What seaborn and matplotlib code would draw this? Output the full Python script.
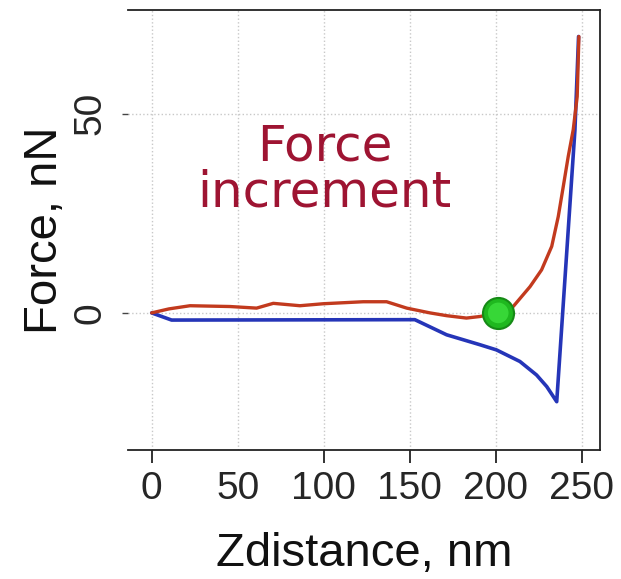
import matplotlib
matplotlib.use("Agg")
import matplotlib.pyplot as plt
import seaborn as sns
import pandas as pd

# retract curve (blue)
blue_x = [0, 11.6, 153, 171.5, 190.9, 200.5, 214.1, 223.8, 229.7, 235.5, 246.1, 248.2]
blue_y = [0, -1.8, -1.7, -5.5, -8.0, -9.3, -12.2, -15.6, -18.5, -22.3, 46, 69.4]

# approach curve (red)
red_x = [0, 10, 22.3, 45.5, 61, 70.7, 86.2, 99.8, 123, 136.6, 148.3, 161.8, 171.5,
         183, 191, 201.5, 210.2, 220, 226.7, 232.6, 236.4, 239.3, 242.2, 245.1,
         247.4, 248.4]
red_y = [0, 1.0, 1.8, 1.6, 1.2, 2.4, 1.8, 2.3, 2.8, 2.8, 1.2, 0.0, -0.7,
         -1.3, -0.9, 0.0, 1.6, 6.6, 10.8, 16.7, 24.2, 31.7, 39.3, 46,
         54.3, 69.4]

marker_x = [201.5]
marker_y = [0]

x_ticks = [0, 50, 100, 150, 200, 250]
y_ticks = [0, 50]

sns.set_theme(style="white")
plt.rcParams['font.family'] = ['Liberation Sans', 'DejaVu Sans']

fig = plt.figure(figsize=(6.21, 5.79), dpi=100)
ax = fig.add_axes([0.206, 0.223, 0.760, 0.760])

df_blue = pd.DataFrame({"x": blue_x, "y": blue_y})
df_red = pd.DataFrame({"x": red_x, "y": red_y})

sns.lineplot(data=df_blue, x="x", y="y", ax=ax, color="#2535b8", lw=2.6,
             estimator=None, sort=False)
sns.lineplot(data=df_red, x="x", y="y", ax=ax, color="#c23a1e", lw=2.4,
             estimator=None, sort=False)

# green ball
ax.scatter(marker_x, marker_y, s=500, color="#1fb81f", edgecolor="#168a16",
           linewidth=1.5, zorder=5)
ax.scatter(marker_x, marker_y, s=220, color="#3ee03e", edgecolor="none",
           zorder=6, alpha=0.8)

ax.text(100.5, 36, "Force\nincrement", color="#9e1432", fontsize=36,
        ha="center", va="center", linespacing=0.95, family="DejaVu Sans")

ax.set_xlim(-13.8, 260.6)
ax.set_ylim(-34.4, 76.1)
ax.set_xticks(x_ticks)
ax.set_yticks(y_ticks)
ax.grid(True, linestyle=":", color="#c8c8c8", lw=1)

for side in ["top", "right", "bottom"]:
    ax.spines[side].set_visible(True)
    ax.spines[side].set_color("#222222")
    ax.spines[side].set_linewidth(1.3)
ax.spines["left"].set_visible(False)

ax.tick_params(axis="x", length=9, width=1.3, color="#222222", labelsize=28,
               pad=6, bottom=True)
ax.tick_params(axis="y", length=4, width=1, color="#444444", labelsize=28,
               pad=10, left=True)
ax.xaxis.get_major_ticks()[1].tick1line.set_visible(False)
for lab in ax.get_yticklabels():
    lab.set_rotation(90)
    lab.set_va("center")

ax.set_xlabel("Zdistance, nm", fontsize=34, labelpad=18, color="#111111")
ax.set_ylabel("Force, nN", fontsize=34, labelpad=4, color="#111111")

fig.savefig("out.png", dpi=100)
